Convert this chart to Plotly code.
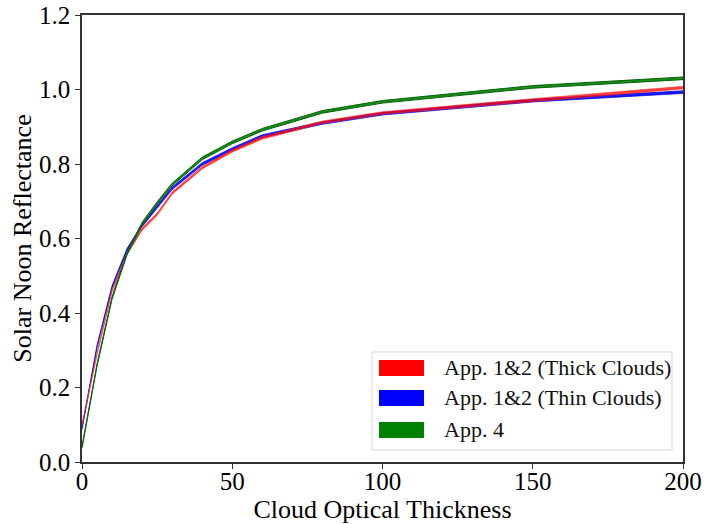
import plotly.graph_objects as go

cot = [0, 5, 10, 15, 20, 25, 30, 40, 50, 60, 80, 100, 150, 200]
thick = [0.10, 0.29, 0.46, 0.56, 0.625, 0.665, 0.722, 0.79, 0.835, 0.87, 0.912, 0.937, 0.972, 1.005]
thin = [0.09, 0.31, 0.47, 0.57, 0.635, 0.685, 0.735, 0.80, 0.84, 0.875, 0.91, 0.935, 0.97, 0.993]
app4 = [0.04, 0.26, 0.44, 0.56, 0.64, 0.695, 0.745, 0.815, 0.858, 0.892, 0.94, 0.967, 1.007, 1.03]

names = ["App. 1&2 (Thick Clouds)", "App. 1&2 (Thin Clouds)", "App. 4"]
colors = ["rgb(255,0,0)", "rgb(0,0,255)", "rgb(0,128,0)"]
band_fill = ["rgba(255,0,0,0.75)", "rgba(0,0,255,0.9)", "rgba(0,128,0,0.9)"]
band_line = ["rgba(255,40,40,0.5)", "rgba(0,0,220,0.7)", "rgb(10,100,10)"]
values = [thick, thin, app4]
draw_order = [1, 0, 2]
half = 0.0035

fig = go.Figure()
for i in draw_order:
    vals = values[i]
    xs = cot + cot[::-1]
    ys = [v + half for v in vals] + [v - half for v in vals[::-1]]
    fig.add_trace(go.Scatter(x=xs, y=ys, fill="toself", fillcolor=band_fill[i],
                             line=dict(color=band_line[i], width=1), mode="lines",
                             name=names[i], hoverinfo="skip", showlegend=False))

font = "Liberation Serif, Times New Roman, serif"

# legend drawn in paper coordinates
shapes = [dict(type="rect", xref="paper", yref="paper", x0=0.4825, x1=0.9817, y0=0.0268, y1=0.2461,
               line=dict(color="#d6d6d6", width=1), fillcolor="rgba(255,255,255,0.85)", layer="above")]
annotations = []
row_y = [0.2103, 0.1432, 0.0716]
for i, name in enumerate(names):
    shapes.append(dict(type="rect", xref="paper", yref="paper", x0=0.4942, x1=0.5691,
                       y0=row_y[i] - 0.0179, y1=row_y[i] + 0.0179,
                       line=dict(color=colors[i], width=0), fillcolor=colors[i], layer="above"))
    annotations.append(dict(xref="paper", yref="paper", x=0.599, y=row_y[i], text=name,
                            showarrow=False, xanchor="left", yanchor="middle",
                            font=dict(family=font, size=22, color="#111")))

fig.update_layout(
    width=705, height=524,
    margin=dict(l=82, r=22, t=15, b=62),
    paper_bgcolor="white", plot_bgcolor="white",
    font=dict(family=font, size=25, color="black"),
    showlegend=False,
    shapes=shapes, annotations=annotations,
    xaxis=dict(range=[0, 200], tickvals=[0, 50, 100, 150, 200], showgrid=False, zeroline=False,
               showline=True, mirror=True, linecolor="#333", linewidth=1.5, automargin=False,
               ticks="outside", ticklen=5, tickcolor="#333",
               ticklabeloverflow="allow", ticklabelstandoff=-9,
               title=dict(text="Cloud Optical Thickness", font=dict(size=26), standoff=0)),
    yaxis=dict(range=[0, 1.2], tickvals=[0, 0.2, 0.4, 0.6, 0.8, 1.0, 1.2], tickformat=".1f",
               showgrid=False, zeroline=False, automargin=False,
               showline=True, mirror=True, linecolor="#333", linewidth=1.5,
               ticks="outside", ticklen=5, tickcolor="#333",
               ticklabeloverflow="allow",
               title=dict(text="Solar Noon Reflectance", font=dict(size=26), standoff=0)),
)
fig.write_html("out.html", config={"displayModeBar": False},
               post_script="document.body.style.margin='0';document.body.style.overflow='hidden';")
